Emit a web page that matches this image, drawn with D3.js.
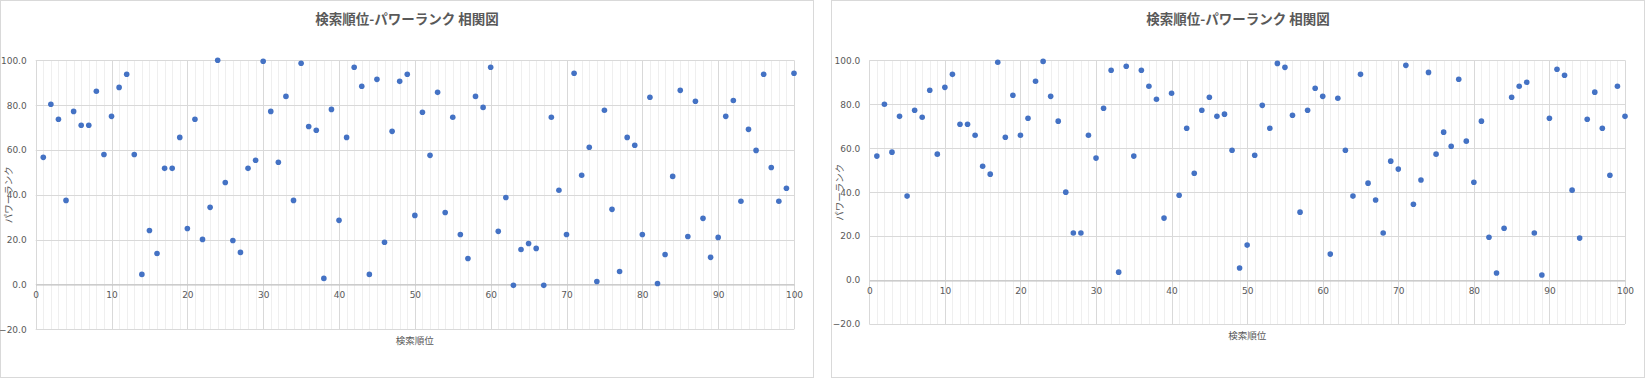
<!DOCTYPE html>
<html>
<head>
<meta charset="utf-8">
<script src="https://cdn.jsdelivr.net/npm/d3@7"></script>
<style>
  body { margin: 0; background: #fff; }
  svg { display: block; }
  text { font-family: "Noto Sans CJK JP", "Noto Sans", sans-serif; fill: #595959; }
  .tick text { font-family: "DejaVu Sans", sans-serif; font-size: 9px; fill: #595959; }
</style>
</head>
<body>
<svg id="chart" width="1645" height="379"></svg>
<script>
// chart texts
const chartTitle = '検索順位-パワーランク 相関図';
const xTitle = '検索順位';
const yTitle = 'パワーランク';

// ticks shared by both charts
const xTicks = [0, 10, 20, 30, 40, 50, 60, 70, 80, 90, 100];
const yTicks = [-20, 0, 20, 40, 60, 80, 100];

// search rank 1..100
const ranks = d3.range(1, 101);

// power rank, left chart
const powerLeft = [
  56.7, 80.4, 73.7, 37.5, 77.2, 71.0, 71.0, 86.2, 58.0, 75.0,
  87.9, 93.8, 58.0, 4.5, 24.1, 13.8, 51.8, 51.8, 65.6, 25.0,
  73.7, 20.1, 34.4, 100.0, 45.5, 19.6, 14.3, 51.8, 55.4, 99.6,
  77.2, 54.5, 83.9, 37.5, 98.7, 70.5, 68.8, 2.7, 78.1, 28.6,
  65.6, 96.9, 88.4, 4.5, 91.5, 18.8, 68.3, 90.6, 93.8, 30.8,
  76.8, 57.6, 85.7, 32.1, 74.6, 22.3, 11.6, 83.9, 79.0, 96.9,
  23.7, 38.8, -0.4, 15.6, 18.3, 16.1, -0.4, 74.6, 42.0, 22.3,
  94.2, 48.7, 61.2, 1.3, 77.7, 33.5, 5.8, 65.6, 62.1, 22.3,
  83.5, 0.4, 13.4, 48.2, 86.6, 21.4, 81.7, 29.5, 12.1, 21.0,
  75.0, 82.1, 37.1, 69.2, 59.8, 93.8, 52.2, 37.1, 42.9, 94.2
];

// power rank, right chart
const powerRight = [
  56.4, 80.0, 58.2, 74.5, 38.2, 77.3, 74.1, 86.4, 57.3, 87.7,
  93.6, 70.9, 70.9, 65.9, 51.8, 48.2, 99.1, 65.0, 84.1, 65.9,
  73.6, 90.5, 99.5, 83.6, 72.3, 40.0, 21.4, 21.4, 65.9, 55.5,
  78.2, 95.5, 3.6, 97.3, 56.4, 95.5, 88.2, 82.3, 28.2, 85.0,
  38.6, 69.1, 48.6, 77.3, 83.2, 74.5, 75.5, 59.1, 5.5, 15.9,
  56.8, 79.5, 69.1, 98.6, 96.8, 75.0, 30.9, 77.3, 87.3, 83.6,
  11.8, 82.7, 59.1, 38.2, 93.6, 44.1, 36.4, 21.4, 54.1, 50.5,
  97.7, 34.5, 45.5, 94.5, 57.3, 67.3, 60.9, 91.4, 63.2, 44.5,
  72.3, 19.5, 3.2, 23.6, 83.2, 88.2, 90.0, 21.4, 2.3, 73.6,
  95.9, 93.2, 40.9, 19.1, 73.2, 85.5, 69.1, 47.7, 88.2, 74.5
];

const svg = d3.select('#chart');

// draws one excel-like scatter panel
function scatter(values, panel, plot) {
  let g = svg.append('g');

  // outer frame
  g.append('rect')
    .attr('x', panel.x + 0.5).attr('y', panel.y + 0.5)
    .attr('width', panel.w - 1).attr('height', panel.h - 1)
    .attr('fill', '#fff').attr('stroke', '#d9d9d9');

  let x = d3.scaleLinear().domain([0, 100]).range([plot.left, plot.right]);
  let y = d3.scaleLinear().domain([-20, 100]).range([plot.bottom, plot.top]);

  // minor vertical grid
  g.append('g').selectAll('line')
    .data(d3.range(1, 100).filter(d => d % 10 != 0))
    .join('line')
      .attr('x1', d => Math.round(x(d)) + 0.5).attr('x2', d => Math.round(x(d)) + 0.5)
      .attr('y1', plot.top).attr('y2', plot.bottom)
      .attr('stroke', '#efefef');

  // major vertical grid
  g.append('g').selectAll('line')
    .data(xTicks)
    .join('line')
      .attr('x1', d => Math.round(x(d)) + 0.5).attr('x2', d => Math.round(x(d)) + 0.5)
      .attr('y1', plot.top).attr('y2', plot.bottom)
      .attr('stroke', '#d9d9d9');

  // horizontal grid
  g.append('g').selectAll('line')
    .data(yTicks)
    .join('line')
      .attr('x1', plot.left).attr('x2', plot.right)
      .attr('y1', d => Math.round(y(d)) + 0.5).attr('y2', d => Math.round(y(d)) + 0.5)
      .attr('stroke', '#d9d9d9');

  // y axis labels
  let yAxis = d3.axisLeft(y).tickValues(yTicks).tickSize(0).tickPadding(9)
    .tickFormat(d3.format('.1f'));
  g.append('g')
    .attr('transform', `translate(${plot.left},0)`)
    .call(yAxis)
    .call(a => a.select('.domain').remove());

  // x axis sits on the zero line
  let xAxis = d3.axisBottom(x).tickValues(xTicks).tickSize(0).tickPadding(7);
  g.append('g')
    .attr('transform', `translate(0,${Math.round(y(0)) + 0.5})`)
    .call(xAxis)
    .call(a => a.select('.domain').attr('stroke', '#bfbfbf'));

  // points
  g.append('g').selectAll('circle')
    .data(values)
    .join('circle')
      .attr('cx', (d, i) => x(ranks[i]))
      .attr('cy', d => y(d))
      .attr('r', 2.8)
      .attr('fill', '#4472c4');

  // titles
  g.append('text')
    .attr('x', panel.x + panel.w / 2).attr('y', 24)
    .attr('text-anchor', 'middle')
    .style('font-size', '13.5px').style('font-weight', 'bold')
    .text(chartTitle);

  g.append('text')
    .attr('x', (plot.left + plot.right) / 2).attr('y', plot.bottom + 15)
    .attr('text-anchor', 'middle')
    .style('font-size', '9.5px')
    .text(xTitle);

  g.append('text')
    .attr('transform', `translate(${panel.x + plot.yTitleX},${(plot.top + plot.bottom) / 2}) rotate(-90)`)
    .attr('text-anchor', 'middle')
    .style('font-size', '9.5px')
    .text(yTitle);
}

scatter(powerLeft,
  {x: 0, y: 0, w: 814, h: 378},
  {left: 35.7, right: 794, top: 60.3, bottom: 329.3, yTitleX: 12});

scatter(powerRight,
  {x: 831, y: 0, w: 814, h: 378},
  {left: 869.3, right: 1625, top: 60.3, bottom: 324, yTitleX: 12});
</script>
</body>
</html>
